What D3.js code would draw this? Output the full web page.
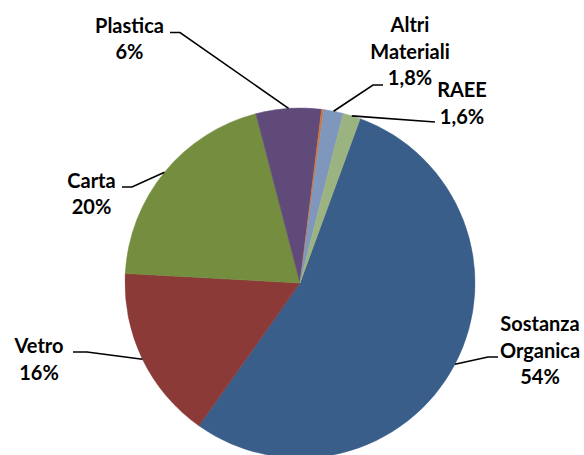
<!DOCTYPE html>
<html>
<head>
<meta charset="utf-8">
<script src="https://cdn.jsdelivr.net/npm/d3@7"></script>
<style>
  html, body { margin: 0; padding: 0; background: #fff; }
  svg { display: block; }
  text { font-family: Lato, "Open Sans", sans-serif; font-weight: 700; fill: #000; }
</style>
</head>
<body>
<script>
// ---- data ----
const categories = ["Sostanza Organica", "Vetro", "Carta", "Plastica", "Altro", "Altri Materiali", "RAEE"];
const values     = [54, 16, 20, 6, 0.2, 1.8, 1.6];
const labelLines = [["Sostanza", "Organica", "54%"], ["Vetro", "16%"], ["Carta", "20%"], ["Plastica", "6%"], [], ["Altri", "Materiali", "1,8%"], ["RAEE", "1,6%"]];
const colors     = ["#3A5E8A", "#8B3A38", "#748D3F", "#5F4A7A", "#D0753C", "#7F97BC", "#9BB381"];

// ---- layout ----
const W = 584, H = 455;
const cx = 300, cy = 283, R = 175;
const startDeg = 20.1;
// label block: center x, first baseline y; leader elbow: [x0, x1, y]
const labelLayout = [
  { x: 540, y: 331, elbow: [498, 488, 357] },
  { x: 39,  y: 353, elbow: [73, 87, 352] },
  { x: 91.5, y: 187.5, elbow: [122, 132, 187] },
  { x: 129.5, y: 32.5, elbow: [170, 180, 32.5] },
  null,
  { x: 410, y: 32, elbow: [383, 373, 85] },
  { x: 462, y: 97, elbow: [435, 435, 122] }
];
const lineH = 26.5;

const svg = d3.select("body").append("svg").attr("width", W).attr("height", H);
const g = svg.append("g").attr("transform", `translate(${cx},${cy})`);

const data = categories.map((c, i) => ({ name: c, value: values[i], i }));
const pie = d3.pie().sort(null).value(d => d.value)
  .startAngle(startDeg * Math.PI / 180)
  .endAngle(startDeg * Math.PI / 180 + 2 * Math.PI);
const arc = d3.arc().innerRadius(0).outerRadius(R);
const arcs = pie(data);

g.selectAll("path.slice").data(arcs).enter().append("path")
  .attr("class", "slice")
  .attr("d", arc)
  .attr("fill", d => colors[d.data.i])
  .attr("stroke", d => colors[d.data.i])
  .attr("stroke-width", 0.5);

// leaders + labels
arcs.forEach(a => {
  const L = labelLayout[a.data.i];
  if (!L) return;
  const mid = (a.startAngle + a.endAngle) / 2;
  const px = cx + R * Math.sin(mid), py = cy - R * Math.cos(mid);
  const [x0, x1, ey] = L.elbow;
  svg.append("path")
    .attr("d", d3.line()([[x0, ey], [x1, ey], [px, py]]))
    .attr("fill", "none").attr("stroke", "#000").attr("stroke-width", 1.6);
  const t = svg.append("text").attr("text-anchor", "middle").style("font-size", "20px");
  labelLines[a.data.i].forEach((s, k) => {
    t.append("tspan").attr("x", L.x).attr("y", L.y + k * lineH).text(s);
  });
});
</script>
</body>
</html>
